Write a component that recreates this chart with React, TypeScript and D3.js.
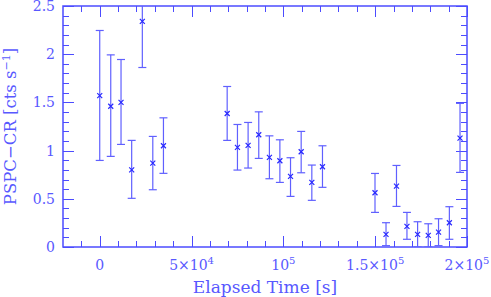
import React, { useEffect, useRef } from 'react';
import * as d3 from 'd3';

// elapsed time (s), count rate, lower / upper ends of the error bar
const times = [0, 6000, 11600, 17400, 23200, 28900, 34700, 69400, 75000, 80800, 86600, 92400, 98100, 103900, 109700, 115500, 121300, 149900, 155900, 161600, 167300, 173100, 178900, 184500, 190400, 196200];
const rates = [1.57, 1.46, 1.5, 0.8, 2.34, 0.87, 1.05, 1.385, 1.033, 1.054, 1.164, 0.929, 0.895, 0.733, 0.988, 0.67, 0.832, 0.563, 0.131, 0.632, 0.214, 0.131, 0.121, 0.155, 0.252, 1.13];
const lows = [0.898, 0.94, 1.064, 0.505, 1.862, 0.594, 0.764, 1.106, 0.798, 0.819, 0.919, 0.708, 0.67, 0.525, 0.77, 0.484, 0.619, 0.359, 0.014, 0.421, 0.08, 0.0, 0.0, 0.014, 0.08, 0.774];
const highs = [2.246, 1.993, 1.945, 1.106, 2.82, 1.147, 1.34, 1.665, 1.271, 1.292, 1.402, 1.153, 1.112, 0.926, 1.199, 0.85, 1.05, 0.763, 0.252, 0.846, 0.359, 0.262, 0.241, 0.293, 0.418, 1.49];

const xMajor = [0, 50000, 100000, 150000, 200000];
const xLabels = [['0', ''], ['5×10', '4'], ['10', '5'], ['1.5×10', '5'], ['2×10', '5']];
const yMajor = [0, 0.5, 1, 1.5, 2, 2.5];
const yLabels = ['0', '0.5', '1', '1.5', '2', '2.5'];

const App = () => {
	const chartRef = useRef(null);

	useEffect(() => {
		document.body.style.margin = '0';
		const W = 491, H = 297;
		const margin = { top: 6, right: 24, bottom: 50, left: 63 };
		const width = W - margin.left - margin.right;
		const height = H - margin.top - margin.bottom;
		const axisCol = '#4c4cff';
		const textCol = '#5858ff';
		const barCol = '#6060ff';
		const font = 'DejaVu Serif, serif';

		d3.select(chartRef.current).selectAll('*').remove();

		const root = d3.select(chartRef.current)
			.append('svg')
			.attr('width', W)
			.attr('height', H)
			.style('display', 'block');

		const svg = root.append('g')
			.attr('transform', `translate(${margin.left},${margin.top})`);

		const x = d3.scaleLinear().domain([-20000, 200000]).range([0, width]);
		const y = d3.scaleLinear().domain([0, 2.5]).range([height, 0]);

		const clip = root.append('clipPath').attr('id', 'plotclip');
		clip.append('rect').attr('width', width).attr('height', height);

		// ticks, mirrored on all four sides, pointing inward
		const xMinor = d3.range(-10000, 200000, 10000).filter(v => !xMajor.includes(v));
		const yMinor = d3.range(0.1, 2.5, 0.1).filter(v => !yMajor.some(m => Math.abs(m - v) < 1e-6));
		const ticks = svg.append('g').attr('stroke', axisCol).attr('stroke-width', 1);
		const xt = [...xMajor.map(v => [v, 11]), ...xMinor.map(v => [v, 6])];
		xt.forEach(([v, len]) => {
			const px = Math.round(x(v)) + 0.5;
			ticks.append('line').attr('x1', px).attr('x2', px).attr('y1', height).attr('y2', height - len);
			ticks.append('line').attr('x1', px).attr('x2', px).attr('y1', 0).attr('y2', len);
		});
		const yt = [...yMajor.map(v => [v, 11]), ...yMinor.map(v => [v, 6])];
		yt.forEach(([v, len]) => {
			const py = Math.round(y(v)) + 0.5;
			ticks.append('line').attr('x1', 0).attr('x2', len).attr('y1', py).attr('y2', py);
			ticks.append('line').attr('x1', width).attr('x2', width - len).attr('y1', py).attr('y2', py);
		});

		svg.append('rect')
			.attr('width', width)
			.attr('height', height)
			.attr('fill', 'none')
			.attr('stroke', axisCol)
			.attr('stroke-width', 1.5);

		// error bars
		const bars = svg.append('g').attr('clip-path', 'url(#plotclip)').attr('stroke', barCol).attr('stroke-width', 1.2);
		times.forEach((t, i) => {
			const px = x(t);
			bars.append('line').attr('x1', px).attr('x2', px).attr('y1', y(lows[i])).attr('y2', y(highs[i]));
			[lows[i], highs[i]].forEach(v => {
				bars.append('line').attr('x1', px - 4).attr('x2', px + 4).attr('y1', y(v)).attr('y2', y(v));
			});
			const py = y(rates[i]);
			bars.append('path')
				.attr('d', `M${px - 2.5},${py - 2.5}L${px + 2.5},${py + 2.5}M${px - 2.5},${py + 2.5}L${px + 2.5},${py - 2.5}`)
				.attr('stroke', '#2828ff')
				.attr('stroke-width', 1.2);
		});

		// x tick labels
		xMajor.forEach((v, i) => {
			const t = svg.append('text')
				.attr('x', x(v))
				.attr('y', height + 23)
				.attr('text-anchor', 'middle')
				.attr('fill', textCol)
				.style('font-family', font)
				.style('font-size', '14px');
			t.append('tspan').text(xLabels[i][0]);
			if (xLabels[i][1]) {
				t.append('tspan').attr('dy', -6).style('font-size', '10px').text(xLabels[i][1]);
			}
		});

		// y tick labels
		yMajor.forEach((v, i) => {
			svg.append('text')
				.attr('x', -8)
				.attr('y', Math.max(y(v) + 5, 5))
				.attr('text-anchor', 'end')
				.attr('fill', textCol)
				.style('font-family', font)
				.style('font-size', '14px')
				.text(yLabels[i]);
		});

		svg.append('text')
			.attr('x', width / 2)
			.attr('y', height + 46)
			.attr('text-anchor', 'middle')
			.attr('fill', textCol)
			.style('font-family', font)
			.style('font-size', '17px')
			.text('Elapsed Time [s]');

		const yt2 = svg.append('text')
			.attr('transform', `translate(${-47},${height / 2}) rotate(-90)`)
			.attr('text-anchor', 'middle')
			.attr('fill', textCol)
			.style('font-family', font)
			.style('font-size', '16.5px');
		yt2.append('tspan').text('PSPC−CR [cts s');
		yt2.append('tspan').attr('dy', -6).style('font-size', '11px').text('−1');
		yt2.append('tspan').attr('dy', 6).text(']');
	}, []);

	return <div ref={chartRef}></div>;
};

export default App;
